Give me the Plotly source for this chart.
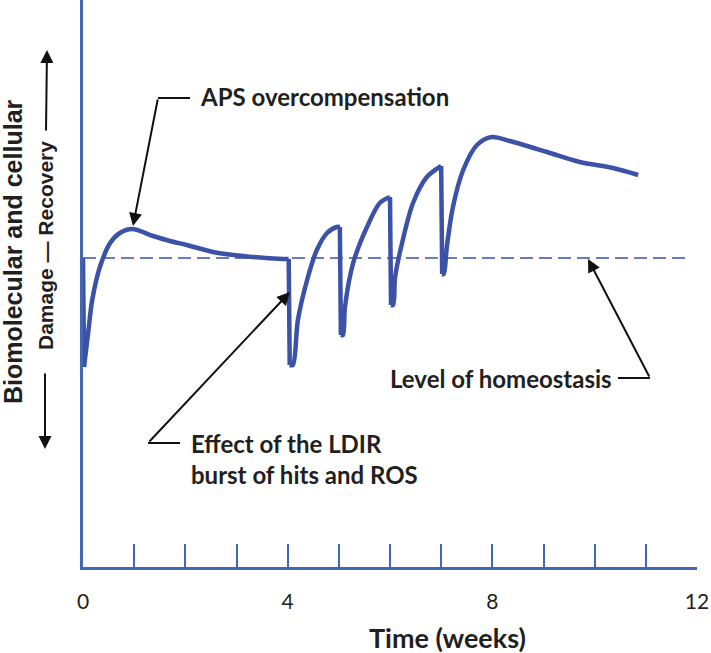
import plotly.graph_objects as go

# ---- data ----
time_weeks = [0.00, 0.02, 0.10, 0.18, 0.33, 0.53, 0.72, 0.96, 1.37, 1.70, 2.03, 2.54, 3.13, 3.91, 4.02,
              4.04, 4.10, 4.20, 4.38, 4.57, 4.77, 4.96, 5.02,
              5.04, 5.08, 5.12, 5.28, 5.55, 5.80, 6.00,
              6.02, 6.06, 6.10, 6.25, 6.45, 6.72, 7.00,
              7.02, 7.05, 7.11, 7.23, 7.43, 7.70, 7.99, 8.34, 9.07, 9.71, 10.36, 10.85]
response = [30.9, 20.0, 23.4, 26.7, 30.0, 32.4, 33.4, 33.8, 33.1, 32.6, 32.2, 31.5, 31.1, 30.8, 30.8,
            20.2, 20.2, 24.7, 28.7, 31.7, 33.4, 34.0, 34.0,
            23.2, 23.2, 26.0, 30.4, 34.0, 36.4, 37.0,
            26.2, 26.2, 29.0, 32.7, 36.4, 39.0, 40.1,
            29.3, 29.3, 32.0, 36.0, 39.7, 42.2, 43.0, 42.6, 41.5, 40.5, 39.9, 39.2]
homeostasis_t = [0, 11.86]
homeostasis_level = [30.9, 30.9]
tick_vals = list(range(0, 13))
tick_text = ["0", "", "", "", "4", "", "", "", "8", "", "", "", "12"]

# ---- layout geometry ----
W, H = 711, 653
L, R, T, B = 83, 14, 0, 86
X0, X1 = 0, 12
Y0, Y1 = 0, 56.7
pw, ph = W - L - R, H - T - B


def pp(x, y):
    """pixel -> paper coordinates (annotation placement only)"""
    return ((x - L) / pw, 1 - (y - T) / ph)


CURVE = "#3B52A6"
AXIS = "#4467B5"
TXT = "#231F20"
FONT = "Lato"
YFONT = "Liberation Sans"

fig = go.Figure()

# split into rising segments (spline) and drops (straight)
segs = [[0]]
for i in range(1, len(time_weeks)):
    if time_weeks[i] - time_weeks[i - 1] <= 0.03 and response[i] < response[i - 1] - 3:
        segs.append([i])
    else:
        segs[-1].append(i)

drop_x, drop_y = [], []
for s in segs[1:]:
    i = s[0]
    drop_x += [time_weeks[i - 1], time_weeks[i], None]
    drop_y += [response[i - 1], response[i], None]
fig.add_trace(go.Scatter(x=drop_x, y=drop_y, mode="lines",
                         line=dict(color=CURVE, width=4.5), hoverinfo="skip"))
for s in segs:
    fig.add_trace(go.Scatter(x=[time_weeks[i] for i in s], y=[response[i] for i in s],
                             mode="lines", line=dict(color=CURVE, width=4.5, shape="spline", smoothing=0.9),
                             hoverinfo="skip"))

fig.add_trace(go.Scatter(x=homeostasis_t, y=homeostasis_level, mode="lines",
                         line=dict(color=CURVE, width=1.6, dash="13px,6px"), hoverinfo="skip"))

ann = []
shapes = []


def text(x, y, s, size, bold=True, anchor="left", angle=0, family=FONT):
    dx, dy = pp(x, y)
    ann.append(dict(x=dx, y=dy, xref="paper", yref="paper", text=f"<b>{s}</b>" if bold else s,
                    showarrow=False, xanchor=anchor, yanchor="middle", textangle=angle,
                    font=dict(family=family, size=size, color=TXT)))


def arrow(tail, tip):
    tx, ty = pp(*tip)
    ann.append(dict(x=tx, y=ty, ax=tail[0] - tip[0], ay=tail[1] - tip[1], xref="paper", yref="paper",
                    text="", showarrow=True, arrowhead=2, arrowsize=1.3, arrowwidth=2,
                    arrowcolor="#111111"))


def seg(p, q):
    a = pp(*p)
    b = pp(*q)
    shapes.append(dict(type="line", xref="paper", yref="paper", x0=a[0], y0=a[1], x1=b[0], y1=b[1],
                       line=dict(color="#111111", width=2)))


# APS overcompensation
text(198, 96, "APS overcompensation", 24)
seg((158, 98), (190, 98))
arrow((158, 98), (133, 226))

# LDIR
text(189, 443, "Effect of the LDIR", 24)
text(189, 474, "burst of hits and ROS", 24)
seg((148, 443), (180, 443))
arrow((148, 443), (290, 292))

# homeostasis
text(388, 378, "Level of homeostasis", 24)
seg((618, 378), (650, 378))
arrow((650, 378), (588, 259))

# y titles
text(13, 252, "Biomolecular and cellular", 25, anchor="center", angle=-90, family=YFONT)
text(45, 246, "Damage — Recovery", 21, anchor="center", angle=-90, family=YFONT)
arrow((46, 132), (47, 50))
arrow((45, 372), (45, 449))

# x title
text(447, 637, "Time (weeks)", 27, anchor="center")

fig.update_layout(
    width=W, height=H, margin=dict(l=L, r=R, t=T, b=B, autoexpand=False),
    paper_bgcolor="white", plot_bgcolor="white", showlegend=False,
    annotations=ann, shapes=shapes,
    xaxis=dict(range=[X0, X1], tickvals=tick_vals, ticktext=tick_text, ticks="inside",
               ticklen=23, tickwidth=2, tickcolor=AXIS, showline=True, linecolor=AXIS,
               linewidth=2.5, showgrid=False, zeroline=False, ticklabelstandoff=14,
               automargin=False, tickfont=dict(family=FONT, size=21, color=TXT)),
    yaxis=dict(range=[Y0, Y1], showticklabels=False, ticks="", showline=True, linecolor=AXIS,
               linewidth=2.5, showgrid=False, zeroline=False, automargin=False),
)

fig.write_html("out.html", config={"displayModeBar": False},
               post_script="document.body.style.margin='0';document.body.style.padding='0';")
